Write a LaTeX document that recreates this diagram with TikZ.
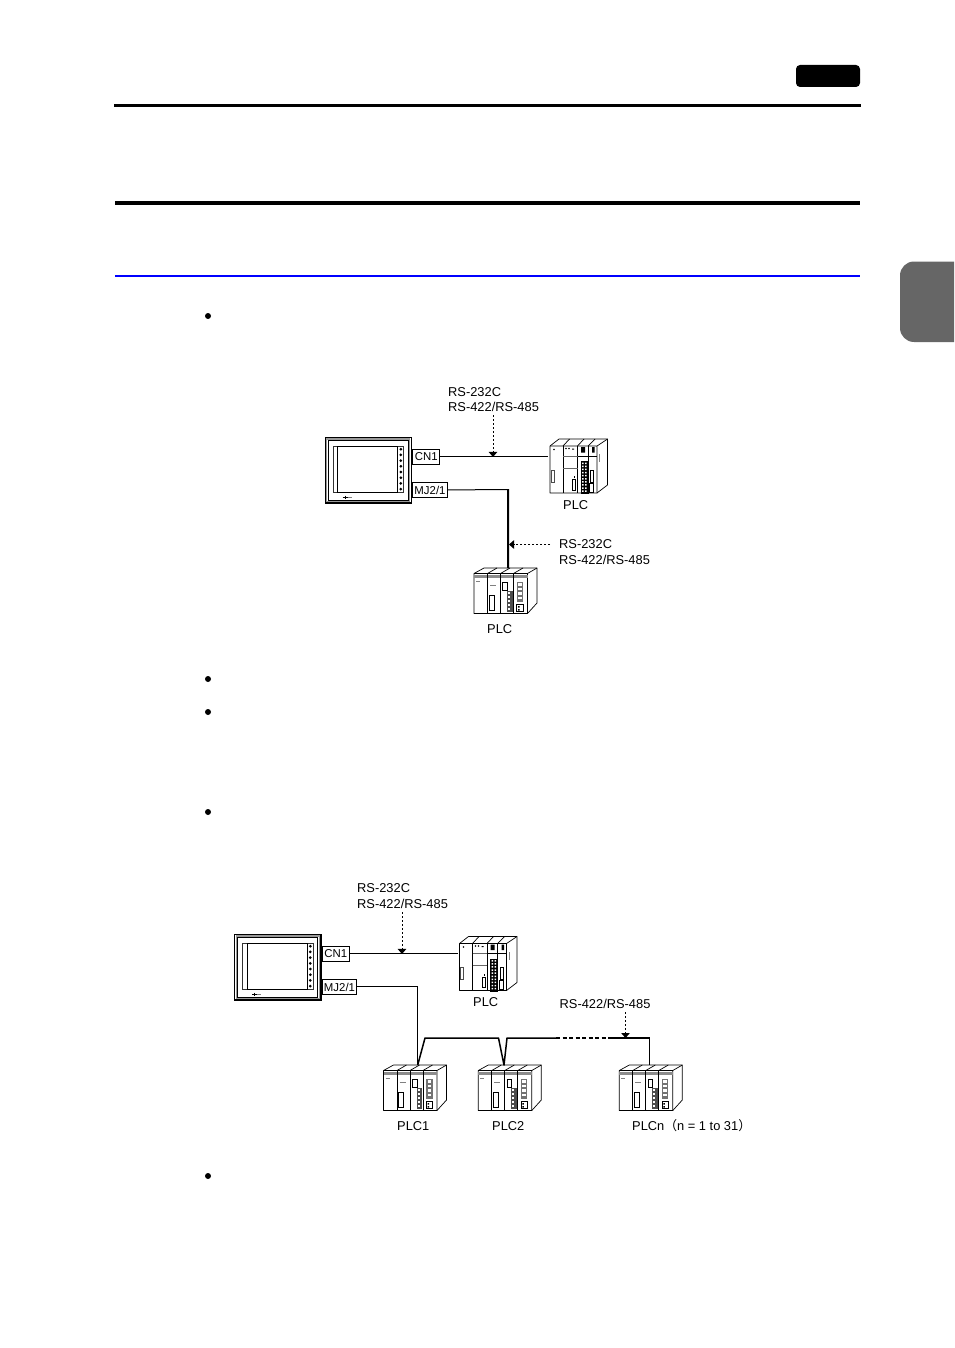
\documentclass[tikz,border=0pt]{standalone}
\usepackage{fontspec}
\setmainfont{Liberation Sans}
\newfontfamily\cjkfont{Noto Sans CJK JP}
\usetikzlibrary{arrows.meta,calc}
\definecolor{tabgray}{HTML}{666666}
\tikzset{
  x=1pt,y=-1pt,
  lbl/.style={inner sep=0pt,anchor=west,font=\fontsize{12.85}{15}\selectfont,align=left},
  portbox/.style={draw=black,line width=0.9pt,fill=white,inner sep=0pt,font=\fontsize{11.4}{13}\selectfont},
  wire/.style={line width=1pt,black},
  thickwire/.style={line width=2pt,black},
  lead/.style={line width=1pt,dash pattern=on 1.7pt off 2.3pt,-{Triangle[width=8.5pt,length=5pt]}},
  rule/.style={fill=black,draw=none},
  dev/.style={inner sep=0pt,anchor=north west,draw=none},
  ln/.style={line width=0.7pt,black},
  fine/.style={line width=0.5pt,black},
  bullet/.style={circle,fill=black,inner sep=0pt,minimum size=6pt},
}
% operator panel
\newcommand{\hmipanel}[3]{%
  \node[dev,minimum width=87.5pt,minimum height=67pt] (#1) at (#2,#3) {};
  \begin{scope}[shift={(#2,#3)}]
    \draw[line width=1.4pt,fill=white] (0.7,0.7) rectangle (86.8,66.3);
    \draw[line width=1.2pt,black!40] (2.3,2.3) rectangle (85.2,64.7);
    \draw[line width=0.9pt] (3.6,3.6) rectangle (83.9,63.4);
    \draw[line width=0.6pt,black!80] (8.5,9.5) rectangle (79,56);
    \draw[line width=1pt] (13,9.5) rectangle (73,56);
    \foreach \k in {0,...,7} \fill (76.3,12.5+5.7*\k) circle (1.5);
    \draw[line width=1pt] (18,60.5) -- (23,60.5) (20.5,59) -- (20.5,62);
    \draw[fine,black!50] (23,60.5) -- (27,60.5);
  \end{scope}}
% rack with the wide connector block
\newcommand{\plctall}[3]{%
  \node[dev,minimum width=57.5pt,minimum height=55.5pt] (#1) at (#2,#3) {};
  \begin{scope}[shift={(#2,#3)}]
    \draw[ln,fill=white,line join=round] (0,7) -- (9,0) -- (57.5,0) -- (57.5,46) -- (47,54) -- (0,54) -- cycle;
    \draw[ln] (0,7) -- (47,7) -- (57.5,0) (47,7) -- (47,54);
    \draw[ln] (13,7) -- (19.5,0) (27.5,7) -- (34,0) (38,7) -- (45,0);
    \draw[ln] (13,7) -- (13,54) (27.5,7) -- (27.5,54) (38,7) -- (38,54);
    \draw[fine,black!60] (13,17) -- (27.5,17) (13,29) -- (27.5,29);
    \draw[fine] (27.5,17) -- (47,17);
    \fill (31,8) rectangle (35,13.5) (42,8) rectangle (44.5,13.5);
    \fill (4,10.5) circle (0.9) (16,9.5) circle (0.9) (19,9.5) circle (0.9) (22,9.5) rectangle (24,10.5);
    \fill[black!50] (49,15) rectangle (50,23);
    \draw[fine,black!70] (0.8,31) rectangle (4,43);
    \draw[line width=0.7pt] (22.5,40.5) rectangle (25.8,51);
    \fill (24,37) rectangle (25,39);
    \fill (30.5,22) rectangle (38.5,55);
    \foreach \k in {0,...,9} \fill[white] (32,23.5+3.1*\k) rectangle (33.6,25+3.1*\k) (35,23.5+3.1*\k) rectangle (36.6,25+3.1*\k);
    \draw[line width=0.7pt] (40.5,31) rectangle (43.5,43);
    \draw[line width=0.7pt] (39.5,44) rectangle (43.5,53);
  \end{scope}}
% rack with the slim modules
\newcommand{\plcslim}[3]{%
  \node[dev,minimum width=63pt,minimum height=46pt] (#1) at (#2,#3) {};
  \begin{scope}[shift={(#2,#3)}]
    \draw[ln,fill=white,line join=round] (0,5.5) -- (10,0) -- (63,0) -- (63,35) -- (53.5,45.5) -- (0,45.5) -- cycle;
    \draw[ln] (53.5,5.5) -- (63,0) (53.5,5.5) -- (53.5,45.5);
    \draw[ln] (13.5,5.5) -- (23,0) (26.5,5.5) -- (36,0) (39.5,5.5) -- (49,0);
    \fill[black!45] (0,6.5) rectangle (53.5,9.5);
    \draw[ln] (0,5.5) -- (53.5,5.5);
    \draw[ln] (13.5,5.5) -- (13.5,45.5) (26.5,5.5) -- (26.5,45.5) (39.5,5.5) -- (39.5,45.5);
    \draw[fine,black!50] (2,13) -- (6,13);
    \draw[fine,black!50] (16,17) -- (22,17);
    \draw[line width=0.6pt] (15,27) rectangle (20,42);
    \draw[fine] (28.7,14) rectangle (33.3,22);
    \fill[black!70] (33,23) rectangle (38.5,43.5);
    \foreach \k in {0,...,4} \fill[white] (34,24+4*\k) rectangle (36,26+4*\k);
    \fill[black!55] (42.5,14) rectangle (49,33.5);
    \foreach \k in {0,...,3} \fill[white] (44,15+4.6*\k) rectangle (47.5,17.5+4.6*\k);
    \draw[fine] (42.5,36) rectangle (49,43.5);
    \fill (44,38) rectangle (45.5,39.5) (44,41) rectangle (45.5,42.5);
  \end{scope}}
\begin{document}
\begin{tikzpicture}
\useasboundingbox (0,0) rectangle (954,1348);
\fill[white] (0,0) rectangle (954,1348);
% page furniture
\fill[rule] (114,104) rectangle (860.5,107);
\fill[rule] (115,201) rectangle (859.5,205);
\fill[blue] (115,275) rectangle (859.5,277);
\fill[black,rounded corners=4pt] (796,65) rectangle (860,87);
\fill[tabgray] (954,261.5) -- (914,261.5) arc[start angle=-90,end angle=-180,radius=14] -- (900,328) arc[start angle=180,end angle=90,radius=14] -- (954,342) -- cycle;
\node[bullet] (b1) at (208,316) {};
\node[bullet] (b2) at (208,679) {};
\node[bullet] (b3) at (208,712) {};
\node[bullet] (b4) at (208,812) {};
\node[bullet] (b5) at (208,1176) {};

% first diagram
\hmipanel{hmiA}{324.5}{436.7}
\node[portbox,minimum width=27pt,minimum height=15pt,anchor=north west] (cnA) at (412.3,449) {CN1};
\node[portbox,minimum width=34.5pt,minimum height=15pt,anchor=north west] (mjA) at (412.3,482) {MJ2/1};
\plctall{plcAa}{550}{439}
\plcslim{plcAb}{474}{568}
\coordinate (leadAa) at (493,415);
\coordinate (leadAb) at (550,544.5);
\coordinate (bendA) at (508,489.5);
\draw[wire] (cnA.east) -- ($(cnA.east -| plcAa.west)+(-2,0)$);
\draw[wire] (mjA.east) -- (bendA);
\draw[thickwire] ($(bendA)+(0,-0.5)$) -- ($(plcAb.north)+(2.5,0)$);
\draw[lead] (leadAa) -- (leadAa |- cnA.east);
\draw[lead] (leadAb) -- (509,544.5);
\node[lbl] (tAa) at (448,392) {RS-232C};
\node[lbl] (tAb) at (448,407) {RS-422/RS-485};
\node[lbl] (tAc) at (559,544) {RS-232C};
\node[lbl] (tAd) at (559,560) {RS-422/RS-485};
\node[lbl] (tAe) at (563,505) {PLC};
\node[lbl] (tAf) at (487,629) {PLC};

% second diagram
\hmipanel{hmiB}{234}{933.7}
\node[portbox,minimum width=27pt,minimum height=15pt,anchor=north west] (cnB) at (321.8,946) {CN1};
\node[portbox,minimum width=34.5pt,minimum height=15pt,anchor=north west] (mjB) at (321.8,979) {MJ2/1};
\plctall{plcBa}{459.5}{936.5}
\plcslim{plcBb}{383.5}{1065}
\plcslim{plcBc}{478.3}{1065}
\plcslim{plcBd}{619.3}{1065}
\coordinate (leadBa) at (402,912);
\coordinate (leadBb) at (625.5,1012);
\coordinate (busA) at (425,1038);
\coordinate (busB) at (498.5,1038);
\coordinate (busC) at (507,1038);
\coordinate (busD) at (556,1038);
\coordinate (busE) at (610,1038);
\coordinate (busF) at (649.5,1038);
\draw[wire,line join=miter] (cnB.east) -- ($(cnB.east -| plcBa.west)+(-2,0)$);
\draw[wire,line join=miter] (mjB.east) -| ($(plcBb.north)+(2.5,0)$);
\draw[thickwire,line width=1.5pt,line join=round] ($(plcBb.north)+(2.5,0)$) -- (busA) -- (busB) -- ($(plcBc.north)+(-6,0)$) -- (busC) -- (busD);
\draw[thickwire,line width=1.5pt,dash pattern=on 4pt off 2.5pt] (busD) -- (busE);
\draw[thickwire,line width=1.8pt] (busE) -- (busF);
\draw[wire] (busF) -- (busF |- plcBd.north);
\draw[lead] (leadBa) -- (leadBa |- cnB.east);
\draw[lead] (leadBb) -- (leadBb |- busE);
\node[lbl] (tBa) at (357,888) {RS-232C};
\node[lbl] (tBb) at (357,904) {RS-422/RS-485};
\node[lbl] (tBc) at (559.5,1004) {RS-422/RS-485};
\node[lbl] (tBd) at (473,1002) {PLC};
\node[lbl] (tBe) at (397,1126) {PLC1};
\node[lbl] (tBf) at (492,1126) {PLC2};
\node[lbl] (tBg) at (632,1126) {PLCn{\cjkfont （}n = 1 to 31{\cjkfont ）}};
\end{tikzpicture}
\end{document}
